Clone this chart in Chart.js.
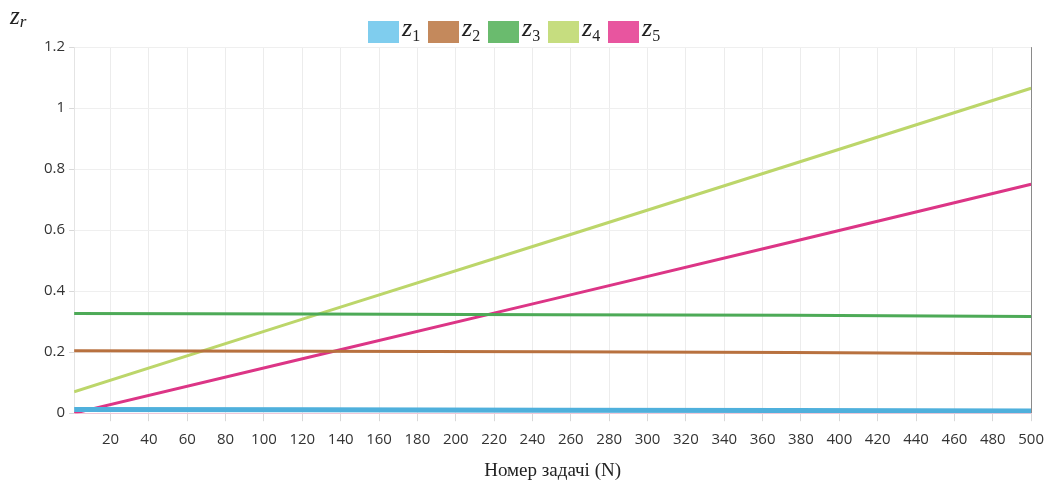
<!DOCTYPE html>
<html>
<head>
<meta charset="utf-8">
<script src="https://cdn.jsdelivr.net/npm/chart.js@4.4.1/dist/chart.umd.min.js"></script>
<style>
  html, body { margin: 0; padding: 0; background: #fff; }
  #wrap { position: relative; width: 1054px; height: 490px; }
  #legend {
    position: absolute; top: 17px; left: 368px;
    display: flex; align-items: center;
    font-family: 'Liberation Serif', 'DejaVu Serif', serif; color: #222;
  }
  #legend .item { display: flex; align-items: center; }
  #legend .box { width: 31px; height: 22px; margin-right: 3px; }
  #legend .txt {
    display: inline-block; width: 26px;
    font-size: 26px; font-style: italic; line-height: 22px; white-space: nowrap;
  }
  #legend .txt sub { font-style: normal; font-size: 16px; vertical-align: -5px; }
  #ycap {
    position: absolute; top: 2px; left: 10px;
    font-family: 'Liberation Serif', 'DejaVu Serif', serif; color: #222;
    font-size: 25px; font-style: italic;
  }
  #ycap sub { font-size: 17px; vertical-align: -3px; }
</style>
</head>
<body>
<div id="wrap">
  <canvas id="chart" width="1054" height="490"></canvas>
  <div id="legend"></div>
  <div id="ycap">z<sub>r</sub></div>
</div>
<script>
// Task number N and the five z series
const taskN = [1, 125, 250, 375, 500];
const z1 = [0.012, 0.011, 0.010, 0.009, 0.007];
const z2 = [0.205, 0.203, 0.201, 0.199, 0.195];
const z3 = [0.327, 0.325, 0.323, 0.321, 0.317];
const z4 = [0.07, 0.318, 0.566, 0.815, 1.065];
const z5 = [0.0, 0.186, 0.373, 0.561, 0.75];
const xTicks = [20, 40, 60, 80, 100, 120, 140, 160, 180, 200, 220, 240, 260, 280,
  300, 320, 340, 360, 380, 400, 420, 440, 460, 480, 500];
const yTicks = [0, 0.2, 0.4, 0.6, 0.8, 1, 1.2];

const seriesNames = ["z1", "z2", "z3", "z4", "z5"];
const seriesData = [z1, z2, z3, z4, z5];
const lineColors = ["#4fb0dc", "#b8713f", "#4daa57", "#bcd66a", "#dc3586"];
const boxColors = ["#7fcdee", "#c4895c", "#6abb6e", "#c6dd7f", "#e8559f"];
const widths = [5, 3, 3, 3, 3];

const datasets = seriesData.map((vals, i) => ({
  label: seriesNames[i],
  data: vals.map((v, j) => ({ x: taskN[j], y: v })),
  borderColor: lineColors[i],
  backgroundColor: boxColors[i],
  borderWidth: widths[i],
  pointRadius: 0,
  tension: 0,
}));

// legend with subscripted names
const legendEl = document.getElementById("legend");
seriesNames.forEach((name, i) => {
  const item = document.createElement("div");
  item.className = "item";
  const box = document.createElement("span");
  box.className = "box";
  box.style.background = boxColors[i];
  const txt = document.createElement("span");
  txt.className = "txt";
  txt.innerHTML = name[0] + "<sub>" + name.slice(1) + "</sub>";
  item.appendChild(box);
  item.appendChild(txt);
  legendEl.appendChild(item);
});

new Chart(document.getElementById("chart"), {
  type: "line",
  data: { datasets },
  options: {
    responsive: false,
    animation: false,
    layout: { padding: { top: 47, right: 6, left: 40, bottom: 8 } },
    plugins: {
      legend: { display: false },
      tooltip: { enabled: false },
    },
    scales: {
      x: {
        type: "linear",
        min: 1,
        max: 500,
        afterBuildTicks(axis) {
          axis.ticks = xTicks.map((v) => ({ value: v }));
        },
        ticks: {
          color: "#333",
          font: { family: "'Open Sans', sans-serif", size: 15 },
          padding: 10,
          maxRotation: 0,
          autoSkip: false,
        },
        grid: {
          color: (c) => (c.tick && c.tick.value === 500 ? "#8a8a8a" : "#ececec"),
          tickLength: 8,
          tickColor: "#d8d8d8",
        },
        border: { color: "#f0c8d8" },
        title: {
          display: true,
          text: "Номер задачі (N)",
          color: "#222",
          font: { family: "'Liberation Serif', 'DejaVu Serif', serif", size: 19 },
          padding: { top: 0, bottom: 0 },
        },
      },
      y: {
        min: 0,
        max: 1.2,
        afterBuildTicks(axis) {
          axis.ticks = yTicks.map((v) => ({ value: v }));
        },
        ticks: {
          color: "#333",
          font: { family: "'Open Sans', sans-serif", size: 15 },
          padding: 4,
          callback: (v) => String(Math.round(v * 10) / 10),
        },
        grid: { color: "#efefef", tickLength: 5, tickColor: "#d8d8d8" },
        border: { color: "#e4e4e4" },
      },
    },
  },
});
</script>
</body>
</html>
